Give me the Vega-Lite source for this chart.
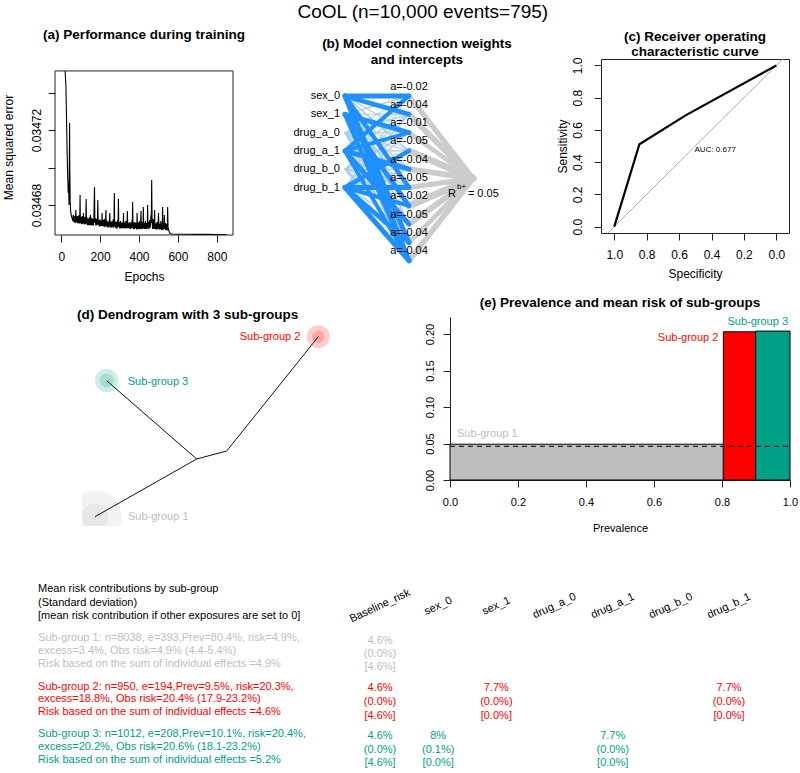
{
  "$schema": "https://vega.github.io/schema/vega-lite/v6.json",
  "background": "white",
  "padding": {"left": 0, "top": 3, "right": 0, "bottom": 0},
  "title": {"text": "CoOL (n=10,000 events=795)", "fontSize": 19, "fontWeight": "normal", "anchor": "middle", "offset": -13, "baseline": "bottom", "dx": 24},
  "spacing": 14,
  "resolve": {"scale": {"color": "independent", "size": "independent", "strokeWidth": "independent"}},
  "config": {
    "font": "Liberation Sans",
    "view": {"stroke": null},
    "legend": {"disable": true},
    "axis": {"grid": false, "domainColor": "#222222", "tickColor": "#222222", "labelColor": "black", "titleColor": "black", "titleFontWeight": "normal", "tickSize": 7, "labelFontSize": 12, "titleFontSize": 12, "labelFlush": false, "labelOverlap": false},
    "title": {"fontSize": 13.5, "fontWeight": "bold", "color": "black", "anchor": "middle", "baseline": "bottom"}
  },
  "vconcat": [
    {
      "bounds": "flush",
      "spacing": 50,
      "resolve": {"scale": {"color": "independent", "size": "independent", "strokeWidth": "independent"}},
      "hconcat": [
        {"width": 5, "height": 10, "data": {"values": [{}]}, "mark": "text", "encoding": {"text": {"value": ""}}},
        {
          "width": 178, "height": 176,
          "title": {"text": "(a) Performance during training", "offset": 17.5},
          "layer": [
            {
              "data": {"values": [
                {"epoch":20,"mse":0.03475147},{"epoch":24,"mse":0.03474400},{"epoch":27,"mse":0.03472800},{"epoch":30,"mse":0.03470933},{"epoch":33,"mse":0.03469600},{"epoch":36,"mse":0.03468640},{"epoch":38,"mse":0.03469067},{"epoch":40,"mse":0.03468000},{"epoch":42,"mse":0.03470667},{"epoch":43,"mse":0.03472373},{"epoch":44,"mse":0.03470133},{"epoch":46,"mse":0.03468267},{"epoch":48,"mse":0.03467733},{"epoch":51,"mse":0.03467467},{"epoch":54,"mse":0.03467360},{"epoch":57,"mse":0.03467253},{"epoch":60,"mse":0.03467147},{"epoch":63,"mse":0.03467413},{"epoch":66,"mse":0.03467093},{"epoch":69,"mse":0.03467307},{"epoch":72,"mse":0.03467040},{"epoch":75,"mse":0.03467733},{"epoch":77,"mse":0.03467093},{"epoch":80,"mse":0.03467360},{"epoch":83,"mse":0.03467040},{"epoch":86,"mse":0.03467253},{"epoch":89,"mse":0.03467093},{"epoch":92,"mse":0.03467467},{"epoch":95,"mse":0.03467040},{"epoch":97,"mse":0.03468533},{"epoch":99,"mse":0.03467093},{"epoch":102,"mse":0.03467307},{"epoch":105,"mse":0.03466987},{"epoch":108,"mse":0.03467413},{"epoch":111,"mse":0.03467040},{"epoch":114,"mse":0.03467573},{"epoch":116,"mse":0.03467040},{"epoch":119,"mse":0.03467253},{"epoch":122,"mse":0.03466987},{"epoch":125,"mse":0.03467360},{"epoch":128,"mse":0.03468320},{"epoch":130,"mse":0.03467040},{"epoch":133,"mse":0.03467307},{"epoch":136,"mse":0.03466987},{"epoch":139,"mse":0.03467200},{"epoch":142,"mse":0.03466933},{"epoch":145,"mse":0.03467360},{"epoch":148,"mse":0.03466987},{"epoch":150,"mse":0.03467467},{"epoch":153,"mse":0.03466933},{"epoch":156,"mse":0.03467253},{"epoch":159,"mse":0.03466987},{"epoch":162,"mse":0.03467147},{"epoch":165,"mse":0.03466933},{"epoch":168,"mse":0.03467413},{"epoch":171,"mse":0.03468960},{"epoch":173,"mse":0.03467040},{"epoch":176,"mse":0.03467253},{"epoch":179,"mse":0.03466933},{"epoch":182,"mse":0.03467200},{"epoch":185,"mse":0.03466987},{"epoch":188,"mse":0.03468267},{"epoch":190,"mse":0.03467040},{"epoch":193,"mse":0.03467147},{"epoch":196,"mse":0.03466880},{"epoch":199,"mse":0.03467200},{"epoch":202,"mse":0.03466933},{"epoch":205,"mse":0.03467093},{"epoch":208,"mse":0.03466880},{"epoch":210,"mse":0.03467573},{"epoch":213,"mse":0.03466933},{"epoch":216,"mse":0.03467147},{"epoch":219,"mse":0.03466880},{"epoch":222,"mse":0.03467253},{"epoch":225,"mse":0.03466827},{"epoch":228,"mse":0.03467093},{"epoch":230,"mse":0.03467733},{"epoch":233,"mse":0.03466880},{"epoch":236,"mse":0.03467147},{"epoch":239,"mse":0.03466827},{"epoch":242,"mse":0.03467040},{"epoch":245,"mse":0.03466880},{"epoch":248,"mse":0.03467200},{"epoch":250,"mse":0.03467573},{"epoch":253,"mse":0.03466827},{"epoch":256,"mse":0.03467040},{"epoch":259,"mse":0.03466827},{"epoch":262,"mse":0.03467147},{"epoch":265,"mse":0.03466880},{"epoch":268,"mse":0.03467253},{"epoch":271,"mse":0.03466827},{"epoch":273,"mse":0.03468640},{"epoch":275,"mse":0.03466880},{"epoch":278,"mse":0.03467093},{"epoch":281,"mse":0.03466827},{"epoch":284,"mse":0.03467040},{"epoch":287,"mse":0.03466773},{"epoch":290,"mse":0.03467200},{"epoch":294,"mse":0.03468320},{"epoch":296,"mse":0.03466827},{"epoch":299,"mse":0.03467040},{"epoch":302,"mse":0.03466773},{"epoch":305,"mse":0.03467147},{"epoch":308,"mse":0.03466827},{"epoch":311,"mse":0.03466987},{"epoch":314,"mse":0.03466773},{"epoch":317,"mse":0.03467093},{"epoch":320,"mse":0.03467573},{"epoch":323,"mse":0.03466827},{"epoch":326,"mse":0.03467040},{"epoch":329,"mse":0.03466773},{"epoch":332,"mse":0.03467147},{"epoch":335,"mse":0.03466827},{"epoch":338,"mse":0.03466987},{"epoch":340,"mse":0.03467680},{"epoch":343,"mse":0.03466773},{"epoch":346,"mse":0.03467040},{"epoch":349,"mse":0.03466827},{"epoch":352,"mse":0.03467093},{"epoch":355,"mse":0.03466773},{"epoch":358,"mse":0.03466987},{"epoch":361,"mse":0.03466827},{"epoch":364,"mse":0.03467200},{"epoch":367,"mse":0.03468160},{"epoch":369,"mse":0.03466773},{"epoch":372,"mse":0.03467040},{"epoch":375,"mse":0.03466773},{"epoch":378,"mse":0.03467093},{"epoch":381,"mse":0.03466827},{"epoch":384,"mse":0.03466987},{"epoch":387,"mse":0.03466720},{"epoch":390,"mse":0.03467573},{"epoch":393,"mse":0.03466827},{"epoch":396,"mse":0.03467040},{"epoch":399,"mse":0.03466773},{"epoch":402,"mse":0.03467147},{"epoch":405,"mse":0.03466773},{"epoch":408,"mse":0.03466987},{"epoch":410,"mse":0.03467680},{"epoch":413,"mse":0.03466773},{"epoch":416,"mse":0.03467093},{"epoch":419,"mse":0.03466827},{"epoch":422,"mse":0.03467893},{"epoch":424,"mse":0.03466773},{"epoch":427,"mse":0.03467040},{"epoch":430,"mse":0.03466773},{"epoch":433,"mse":0.03467147},{"epoch":436,"mse":0.03466827},{"epoch":439,"mse":0.03466987},{"epoch":441,"mse":0.03466720},{"epoch":444,"mse":0.03468000},{"epoch":446,"mse":0.03466827},{"epoch":449,"mse":0.03467093},{"epoch":452,"mse":0.03466773},{"epoch":455,"mse":0.03467200},{"epoch":458,"mse":0.03466880},{"epoch":461,"mse":0.03467467},{"epoch":463,"mse":0.03467040},{"epoch":465,"mse":0.03469333},{"epoch":467,"mse":0.03467147},{"epoch":469,"mse":0.03466827},{"epoch":472,"mse":0.03467253},{"epoch":475,"mse":0.03466773},{"epoch":478,"mse":0.03467040},{"epoch":480,"mse":0.03467733},{"epoch":483,"mse":0.03466773},{"epoch":486,"mse":0.03466987},{"epoch":489,"mse":0.03466720},{"epoch":492,"mse":0.03467093},{"epoch":495,"mse":0.03466773},{"epoch":498,"mse":0.03467040},{"epoch":500,"mse":0.03467573},{"epoch":503,"mse":0.03466720},{"epoch":506,"mse":0.03466987},{"epoch":509,"mse":0.03466773},{"epoch":512,"mse":0.03467147},{"epoch":515,"mse":0.03466720},{"epoch":518,"mse":0.03466933},{"epoch":521,"mse":0.03467893},{"epoch":523,"mse":0.03466720},{"epoch":526,"mse":0.03466987},{"epoch":528,"mse":0.03466720},{"epoch":530,"mse":0.03467467},{"epoch":533,"mse":0.03466773},{"epoch":536,"mse":0.03467040},{"epoch":539,"mse":0.03466720},{"epoch":542,"mse":0.03466933},{"epoch":545,"mse":0.03466667},{"epoch":547,"mse":0.03467893},{"epoch":549,"mse":0.03466827},{"epoch":552,"mse":0.03466667},{"epoch":556,"mse":0.03466560},{"epoch":560,"mse":0.03466480},{"epoch":570,"mse":0.03466453},{"epoch":600,"mse":0.03466443},{"epoch":650,"mse":0.03466437},{"epoch":700,"mse":0.03466432},{"epoch":750,"mse":0.03466432},{"epoch":800,"mse":0.03466427},{"epoch":850,"mse":0.03466427},
                {"epoch":61.5,"mse":0.03467467},{"epoch":64.5,"mse":0.03467147},{"epoch":67.5,"mse":0.03467413},{"epoch":70.5,"mse":0.03467093},{"epoch":73.5,"mse":0.03467360},{"epoch":78.5,"mse":0.03467413},{"epoch":81.5,"mse":0.03467093},{"epoch":84.5,"mse":0.03467413},{"epoch":87.5,"mse":0.03467040},{"epoch":90.5,"mse":0.03467360},{"epoch":93.5,"mse":0.03467040},{"epoch":98,"mse":0.03467413},{"epoch":100.5,"mse":0.03467040},{"epoch":103.5,"mse":0.03467360},{"epoch":106.5,"mse":0.03467040},{"epoch":109.5,"mse":0.03467307},{"epoch":112.5,"mse":0.03466987},{"epoch":117.5,"mse":0.03467360},{"epoch":120.5,"mse":0.03466987},{"epoch":123.5,"mse":0.03467307},{"epoch":126.5,"mse":0.03466987},{"epoch":131.5,"mse":0.03467307},{"epoch":134.5,"mse":0.03466933},{"epoch":137.5,"mse":0.03467253},{"epoch":140.5,"mse":0.03466987},{"epoch":143.5,"mse":0.03467253},{"epoch":146.5,"mse":0.03466933},{"epoch":151.5,"mse":0.03467200},{"epoch":154.5,"mse":0.03466933},{"epoch":157.5,"mse":0.03467307},{"epoch":160.5,"mse":0.03466933},{"epoch":163.5,"mse":0.03467253},{"epoch":166.5,"mse":0.03466933},{"epoch":174.5,"mse":0.03467253},{"epoch":177.5,"mse":0.03466933},{"epoch":180.5,"mse":0.03467253},{"epoch":183.5,"mse":0.03466933},{"epoch":186.5,"mse":0.03467200},{"epoch":191.5,"mse":0.03466933},{"epoch":194.5,"mse":0.03467200},{"epoch":197.5,"mse":0.03466880},{"epoch":200.5,"mse":0.03467200},{"epoch":203.5,"mse":0.03466880},{"epoch":206.5,"mse":0.03467147},{"epoch":211.5,"mse":0.03466880},{"epoch":214.5,"mse":0.03467200},{"epoch":217.5,"mse":0.03466880},{"epoch":220.5,"mse":0.03467147},{"epoch":223.5,"mse":0.03466880},{"epoch":226.5,"mse":0.03467147},{"epoch":231.5,"mse":0.03466880},{"epoch":234.5,"mse":0.03467147},{"epoch":237.5,"mse":0.03466827},{"epoch":240.5,"mse":0.03467093},{"epoch":243.5,"mse":0.03466827},{"epoch":246.5,"mse":0.03467147},{"epoch":251.5,"mse":0.03466827},{"epoch":254.5,"mse":0.03467093},{"epoch":257.5,"mse":0.03466827},{"epoch":260.5,"mse":0.03467093},{"epoch":263.5,"mse":0.03466827},{"epoch":266.5,"mse":0.03467093},{"epoch":269.5,"mse":0.03466827},{"epoch":276.5,"mse":0.03467093},{"epoch":279.5,"mse":0.03466773},{"epoch":282.5,"mse":0.03467093},{"epoch":285.5,"mse":0.03466773},{"epoch":288.5,"mse":0.03467040},{"epoch":292,"mse":0.03466827},{"epoch":297.5,"mse":0.03467040},{"epoch":300.5,"mse":0.03466773},{"epoch":303.5,"mse":0.03467040},{"epoch":306.5,"mse":0.03466773},{"epoch":309.5,"mse":0.03467040},{"epoch":312.5,"mse":0.03466773},{"epoch":315.5,"mse":0.03467040},{"epoch":318.5,"mse":0.03466773},{"epoch":321.5,"mse":0.03467040},{"epoch":324.5,"mse":0.03466773},{"epoch":327.5,"mse":0.03467040},{"epoch":330.5,"mse":0.03466773},{"epoch":333.5,"mse":0.03467040},{"epoch":336.5,"mse":0.03466773},{"epoch":341.5,"mse":0.03467040},{"epoch":344.5,"mse":0.03466773},{"epoch":347.5,"mse":0.03466987},{"epoch":350.5,"mse":0.03466773},{"epoch":353.5,"mse":0.03467040},{"epoch":356.5,"mse":0.03466720},{"epoch":359.5,"mse":0.03467040},{"epoch":362.5,"mse":0.03466773},{"epoch":365.5,"mse":0.03467040},{"epoch":370.5,"mse":0.03466720},{"epoch":373.5,"mse":0.03467040},{"epoch":376.5,"mse":0.03466720},{"epoch":379.5,"mse":0.03466987},{"epoch":382.5,"mse":0.03466773},{"epoch":385.5,"mse":0.03467040},{"epoch":388.5,"mse":0.03466720},{"epoch":391.5,"mse":0.03466987},{"epoch":394.5,"mse":0.03466720},{"epoch":397.5,"mse":0.03467040},{"epoch":400.5,"mse":0.03466720},{"epoch":403.5,"mse":0.03466987},{"epoch":406.5,"mse":0.03466720},{"epoch":411.5,"mse":0.03466987},{"epoch":414.5,"mse":0.03466720},{"epoch":417.5,"mse":0.03467040},{"epoch":420.5,"mse":0.03466720},{"epoch":425.5,"mse":0.03466987},{"epoch":428.5,"mse":0.03466720},{"epoch":431.5,"mse":0.03466987},{"epoch":434.5,"mse":0.03466720},{"epoch":437.5,"mse":0.03467040},{"epoch":442.5,"mse":0.03466773},{"epoch":447.5,"mse":0.03466987},{"epoch":450.5,"mse":0.03466720},{"epoch":453.5,"mse":0.03467040},{"epoch":456.5,"mse":0.03466773},{"epoch":459.5,"mse":0.03467093},{"epoch":470.5,"mse":0.03466720},{"epoch":473.5,"mse":0.03467040},{"epoch":476.5,"mse":0.03466720},{"epoch":481.5,"mse":0.03466987},{"epoch":484.5,"mse":0.03466720},{"epoch":487.5,"mse":0.03466987},{"epoch":490.5,"mse":0.03466720},{"epoch":493.5,"mse":0.03466987},{"epoch":496.5,"mse":0.03466720},{"epoch":501.5,"mse":0.03466987},{"epoch":504.5,"mse":0.03466720},{"epoch":507.5,"mse":0.03466987},{"epoch":510.5,"mse":0.03466720},{"epoch":513.5,"mse":0.03466987},{"epoch":516.5,"mse":0.03466667},{"epoch":519.5,"mse":0.03466987},{"epoch":524.5,"mse":0.03466667},{"epoch":527,"mse":0.03466987},{"epoch":531.5,"mse":0.03466720},{"epoch":534.5,"mse":0.03466987},{"epoch":537.5,"mse":0.03466667},{"epoch":540.5,"mse":0.03466987},{"epoch":543.5,"mse":0.03466667}
              ]},
              "mark": {"type": "line", "color": "black", "strokeWidth": 1.1, "clip": true},
              "encoding": {
                "x": {"field": "epoch", "type": "quantitative", "scale": {"domain": [-32, 883], "nice": false, "zero": false},
                      "axis": {"values": [0, 200, 400, 600, 800], "title": "Epochs", "domain": false, "labelPadding": 9, "titlePadding": 9, "labelOverlap": false}},
                "y": {"field": "mse", "type": "quantitative", "scale": {"domain": [0.034664, 0.03475787], "nice": false, "zero": false},
                      "axis": {"values": [0.03468, 0.0347, 0.03472, 0.03474], "format": ".5f", "labelExpr": "datum.label == '0.03468' || datum.label == '0.03472' ? datum.label : ''", "labelAngle": -90, "labelAlign": "center", "labelBaseline": "bottom", "labelPadding": 5, "title": "Mean squared error", "titlePadding": 15, "domain": false, "labelOverlap": false}}
              }
            },
            {
              "data": {"values": [{}]},
              "mark": {"type": "rect", "fill": "transparent", "stroke": "#222222", "strokeWidth": 1},
              "encoding": {"x": {"datum": -32, "type": "quantitative"}, "x2": {"datum": 883}, "y": {"datum": 0.034664, "type": "quantitative"}, "y2": {"datum": 0.0347515}}
            }
          ]
        },
        {
          "width": 268, "height": 213,
          "title": {"text": ["(b) Model connection weights", "and intercepts"], "offset": -7.5, "lineHeight": 16},
          "resolve": {"scale": {"strokeWidth": "independent", "color": "independent"}},
          "layer": [
            {
              "data": {"values": [{"j":0,"w":0.7},{"j":1,"w":0.8},{"j":2,"w":0.6},{"j":3,"w":0.9},{"j":4,"w":0.75},{"j":5,"w":0.7},{"j":6,"w":0.95},{"j":7,"w":0.8},{"j":8,"w":0.65},{"j":9,"w":0.75}]},
              "mark": {"type": "rule", "color": "#CCCCCC", "strokeCap": "round"},
              "encoding": {
                "x": {"datum": 1, "type": "quantitative", "scale": {"domain": [-0.96875, 3.21875], "nice": false, "zero": false}, "axis": null},
                "x2": {"datum": 2},
                "y": {"field": "j", "type": "quantitative", "scale": {"domain": [-2.022, 9.617], "reverse": true, "nice": false, "zero": false}, "axis": null},
                "y2": {"datum": 4.5},
                "strokeWidth": {"field": "w", "type": "quantitative", "scale": {"domain": [0, 1], "range": [0, 7.5]}, "legend": null}
              }
            },
            {
              "data": {"values": [
                {"i":0,"j":0,"w":0.9},{"i":0,"j":1,"w":0.85},{"i":0,"j":2,"w":0.15},{"i":0,"j":3,"w":0.2},{"i":0,"j":4,"w":0.1},{"i":0,"j":5,"w":0.8},{"i":0,"j":6,"w":0.15},{"i":0,"j":7,"w":0.2},{"i":0,"j":8,"w":0.9},{"i":0,"j":9,"w":0.85},
                {"i":1,"j":0,"w":0.2},{"i":1,"j":1,"w":0.15},{"i":1,"j":2,"w":0.9},{"i":1,"j":3,"w":0.1},{"i":1,"j":4,"w":0.2},{"i":1,"j":5,"w":0.15},{"i":1,"j":6,"w":0.85},{"i":1,"j":7,"w":0.1},{"i":1,"j":8,"w":0.2},{"i":1,"j":9,"w":0.8},
                {"i":2,"j":0,"w":0.15},{"i":2,"j":1,"w":0.2},{"i":2,"j":2,"w":0.1},{"i":2,"j":3,"w":0.15},{"i":2,"j":4,"w":0.2},{"i":2,"j":5,"w":0.1},{"i":2,"j":6,"w":0.15},{"i":2,"j":7,"w":0.2},{"i":2,"j":8,"w":0.1},{"i":2,"j":9,"w":0.15},
                {"i":3,"j":0,"w":0.75},{"i":3,"j":1,"w":0.15},{"i":3,"j":2,"w":0.7},{"i":3,"j":3,"w":0.2},{"i":3,"j":4,"w":0.9},{"i":3,"j":5,"w":0.15},{"i":3,"j":6,"w":0.1},{"i":3,"j":7,"w":0.85},{"i":3,"j":8,"w":0.2},{"i":3,"j":9,"w":0.7},
                {"i":4,"j":0,"w":0.1},{"i":4,"j":1,"w":0.15},{"i":4,"j":2,"w":0.2},{"i":4,"j":3,"w":0.1},{"i":4,"j":4,"w":0.15},{"i":4,"j":5,"w":0.2},{"i":4,"j":6,"w":0.1},{"i":4,"j":7,"w":0.15},{"i":4,"j":8,"w":0.2},{"i":4,"j":9,"w":0.1},
                {"i":5,"j":0,"w":0.15},{"i":5,"j":1,"w":0.2},{"i":5,"j":2,"w":0.15},{"i":5,"j":3,"w":0.8},{"i":5,"j":4,"w":0.2},{"i":5,"j":5,"w":0.9},{"i":5,"j":6,"w":0.75},{"i":5,"j":7,"w":0.15},{"i":5,"j":8,"w":0.85},{"i":5,"j":9,"w":0.9}
              ]},
              "mark": {"type": "rule", "strokeCap": "round"},
              "encoding": {
                "x": {"datum": 0, "type": "quantitative"},
                "x2": {"datum": 1},
                "y": {"field": "i", "type": "quantitative"},
                "y2": {"field": "j"},
                "order": {"field": "w", "type": "quantitative"},
                "strokeWidth": {"field": "w", "type": "quantitative", "scale": {"domain": [0, 1], "range": [0.3, 5.5]}, "legend": null},
                "color": {"field": "w", "type": "quantitative", "scale": {"type": "threshold", "domain": [0.5], "range": ["#A9C9F0", "#1E90FF"]}, "legend": null}
              }
            },
            {
              "data": {"values": [{"i":0,"name":"sex_0"},{"i":1,"name":"sex_1"},{"i":2,"name":"drug_a_0"},{"i":3,"name":"drug_a_1"},{"i":4,"name":"drug_b_0"},{"i":5,"name":"drug_b_1"}]},
              "mark": {"type": "text", "align": "right", "baseline": "middle", "dx": -5, "fontSize": 11, "color": "black"},
              "encoding": {"x": {"datum": 0, "type": "quantitative"}, "y": {"field": "i", "type": "quantitative"}, "text": {"field": "name"}}
            },
            {
              "data": {"values": [{"j":0,"a":"a=-0.02"},{"j":1,"a":"a=-0.04"},{"j":2,"a":"a=-0.01"},{"j":3,"a":"a=-0.05"},{"j":4,"a":"a=-0.04"},{"j":5,"a":"a=-0.05"},{"j":6,"a":"a=-0.02"},{"j":7,"a":"a=-0.05"},{"j":8,"a":"a=-0.04"},{"j":9,"a":"a=-0.04"}]},
              "mark": {"type": "text", "align": "center", "baseline": "middle", "dy": -9.5, "fontSize": 11, "color": "black"},
              "encoding": {"x": {"datum": 1, "type": "quantitative"}, "y": {"field": "j", "type": "quantitative"}, "text": {"field": "a"}}
            },
            {
              "data": {"values": [{"t":"R","px":1.61,"py":5.36},{"t":"= 0.05","px":1.92,"py":5.36}]},
              "mark": {"type": "text", "align": "left", "baseline": "middle", "fontSize": 11, "color": "black"},
              "encoding": {"x": {"field": "px", "type": "quantitative"}, "y": {"field": "py", "type": "quantitative"}, "text": {"field": "t"}}
            },
            {
              "data": {"values": [{"t":"b+","px":1.75,"py":4.98}]},
              "mark": {"type": "text", "align": "left", "baseline": "middle", "fontSize": 8, "color": "black"},
              "encoding": {"x": {"field": "px", "type": "quantitative"}, "y": {"field": "py", "type": "quantitative"}, "text": {"field": "t"}}
            }
          ]
        },
        {
          "width": 188, "height": 174,
          "view": {"stroke": "#222222", "strokeWidth": 1},
          "title": {"text": ["(c) Receiver operating", "characteristic curve"], "offset": -1, "lineHeight": 15},
          "encoding": {
            "x": {"field": "spec", "type": "quantitative", "scale": {"domain": [-0.078, 1.082], "reverse": true, "nice": false, "zero": false},
                  "axis": {"values": [0, 0.2, 0.4, 0.6, 0.8, 1], "format": ".1f", "title": "Specificity", "domain": false, "labelPadding": 9, "titlePadding": 8, "labelOverlap": false}},
            "y": {"field": "sens", "type": "quantitative", "scale": {"domain": [-0.04, 1.04], "nice": false, "zero": false},
                  "axis": {"values": [0, 0.2, 0.4, 0.6, 0.8, 1], "format": ".1f", "labelAngle": -90, "labelAlign": "center", "labelBaseline": "bottom", "labelPadding": 10, "title": "Sensitivity", "titlePadding": 2, "domain": false, "labelOverlap": false}}
          },
          "layer": [
            {
              "data": {"values": [{"spec": 1.1, "sens": -0.1, "spec2": -0.1, "sens2": 1.1}]},
              "mark": {"type": "rule", "color": "#AAAAAA", "strokeWidth": 1, "clip": true},
              "encoding": {"x2": {"field": "spec2"}, "y2": {"field": "sens2"}}
            },
            {
              "data": {"values": [{"spec":1.0,"sens":0.0},{"spec":0.845,"sens":0.511},{"spec":0.56,"sens":0.69},{"spec":0.0,"sens":1.0}]},
              "mark": {"type": "line", "color": "black", "strokeWidth": 2.2, "clip": true}
            },
            {
              "data": {"values": [{"label": "AUC: 0.677", "spec": 0.505, "sens": 0.476}]},
              "mark": {"type": "text", "align": "left", "baseline": "middle", "fontSize": 8, "color": "black"},
              "encoding": {"text": {"field": "label"}}
            }
          ]
        }
      ]
    },
    {
      "bounds": "flush",
      "spacing": 40,
      "resolve": {"scale": {"color": "independent", "size": "independent", "strokeWidth": "independent"}},
      "hconcat": [
        {"width": 42, "height": 10, "data": {"values": [{}]}, "mark": "text", "encoding": {"text": {"value": ""}}},
        {
          "width": 328, "height": 209,
          "title": {"text": "(d) Dendrogram with 3 sub-groups", "anchor": "start", "offset": -4.5, "dx": -5},
          "resolve": {"scale": {"size": "independent"}},
          "layer": [
            {
              "data": {"values": [{"grp":"Sub-group 1","x":0.0396,"y":0.0445,"n":8038,"e":393},{"grp":"Sub-group 2","x":0.7204,"y":0.9057,"n":950,"e":194},{"grp":"Sub-group 3","x":0.0753,"y":0.6952,"n":1012,"e":208}]},
              "mark": {"type": "point", "shape": "circle", "filled": true, "opacity": 0.2, "strokeWidth": 0, "clip": true},
              "encoding": {
                "x": {"field": "x", "type": "quantitative", "scale": {"domain": [0, 1], "nice": false, "zero": false}, "axis": null},
                "y": {"field": "y", "type": "quantitative", "scale": {"domain": [0, 1], "nice": false, "zero": false}, "axis": null},
                "size": {"field": "n", "type": "quantitative", "scale": {"domain": [950, 8038], "range": [531, 2827]}, "legend": null},
                "color": {"field": "grp", "type": "nominal", "scale": {"domain": ["Sub-group 1", "Sub-group 2", "Sub-group 3"], "range": ["#BEBEBE", "#FF0000", "#00A087"]}, "legend": null}
              }
            },
            {
              "data": {"values": [{"grp":"Sub-group 1","x":0.0396,"y":0.0445,"n":8038,"e":393},{"grp":"Sub-group 2","x":0.7204,"y":0.9057,"n":950,"e":194},{"grp":"Sub-group 3","x":0.0753,"y":0.6952,"n":1012,"e":208}]},
              "mark": {"type": "point", "shape": "circle", "filled": true, "opacity": 0.2, "strokeWidth": 0, "clip": true},
              "encoding": {
                "x": {"field": "x", "type": "quantitative"},
                "y": {"field": "y", "type": "quantitative"},
                "size": {"field": "e", "type": "quantitative", "scale": {"domain": [194, 393], "range": [154, 707]}, "legend": null},
                "color": {"field": "grp", "type": "nominal", "legend": null}
              }
            },
            {
              "data": {"values": [{"x":0.0396,"y":0.0445,"x2":0.3497,"y2":0.3206},{"x":0.3497,"y":0.3206,"x2":0.0753,"y2":0.6952},{"x":0.3497,"y":0.3206,"x2":0.4412,"y2":0.3589},{"x":0.4412,"y":0.3589,"x2":0.7204,"y2":0.9057}]},
              "mark": {"type": "rule", "color": "#111111", "strokeWidth": 1},
              "encoding": {"x": {"field": "x", "type": "quantitative"}, "y": {"field": "y", "type": "quantitative"}, "x2": {"field": "x2"}, "y2": {"field": "y2"}}
            },
            {
              "data": {"values": [{"grp":"Sub-group 2","x":0.7204,"y":0.9057}]},
              "mark": {"type": "text", "align": "right", "baseline": "middle", "dx": -18, "fontSize": 11},
              "encoding": {"x": {"field": "x", "type": "quantitative"}, "y": {"field": "y", "type": "quantitative"}, "text": {"field": "grp"}, "color": {"field": "grp", "type": "nominal", "legend": null}}
            },
            {
              "data": {"values": [{"grp":"Sub-group 3","x":0.0753,"y":0.6952}]},
              "mark": {"type": "text", "align": "left", "baseline": "middle", "dx": 21, "dy": 1, "fontSize": 11},
              "encoding": {"x": {"field": "x", "type": "quantitative"}, "y": {"field": "y", "type": "quantitative"}, "text": {"field": "grp"}, "color": {"field": "grp", "type": "nominal", "legend": null}}
            },
            {
              "data": {"values": [{"grp":"Sub-group 1","x":0.0396,"y":0.0445}]},
              "mark": {"type": "text", "align": "left", "baseline": "middle", "dx": 33, "fontSize": 11},
              "encoding": {"x": {"field": "x", "type": "quantitative"}, "y": {"field": "y", "type": "quantitative"}, "text": {"field": "grp"}, "color": {"field": "grp", "type": "nominal", "legend": null}}
            }
          ]
        },
        {
          "width": 340, "height": 163,
          "title": {"text": "(e) Prevalence and mean risk of sub-groups", "offset": 6.5},
          "data": {"values": [{"grp":"Sub-group 1","start":0,"end":0.804,"risk":0.049},{"grp":"Sub-group 2","start":0.804,"end":0.899,"risk":0.203},{"grp":"Sub-group 3","start":0.899,"end":1.0,"risk":0.204}]},
          "layer": [
            {
              "mark": {"type": "rect", "stroke": "black", "strokeWidth": 1},
              "encoding": {
                "x": {"field": "start", "type": "quantitative", "scale": {"domain": [0, 1], "nice": false, "zero": false},
                      "axis": {"values": [0, 0.2, 0.4, 0.6, 0.8, 1], "format": ".1f", "title": "Prevalence", "labelFontSize": 11, "titleFontSize": 11, "labelPadding": 9.5, "titlePadding": 15}},
                "x2": {"field": "end"},
                "y": {"field": "risk", "type": "quantitative", "scale": {"domain": [0, 0.2233], "nice": false, "zero": false},
                      "axis": {"values": [0, 0.05, 0.1, 0.15, 0.2], "format": ".2f", "labelAngle": -90, "labelAlign": "center", "labelBaseline": "bottom", "labelPadding": 7.5, "labelFontSize": 11, "title": null}},
                "y2": {"datum": 0},
                "color": {"field": "grp", "type": "nominal", "scale": {"domain": ["Sub-group 1", "Sub-group 2", "Sub-group 3"], "range": ["#BEBEBE", "#FF0000", "#00A087"]}, "legend": null}
              }
            },
            {
              "mark": {"type": "rule", "color": "#222222", "strokeDash": [5, 4], "strokeWidth": 1},
              "encoding": {"y": {"datum": 0.046, "type": "quantitative"}, "x": {"datum": 0, "type": "quantitative"}, "x2": {"datum": 1}}
            },
            {
              "transform": [{"filter": "datum.grp == 'Sub-group 1'"}],
              "mark": {"type": "text", "align": "left", "baseline": "middle", "dx": 7, "dy": -10, "fontSize": 11},
              "encoding": {"x": {"field": "start", "type": "quantitative"}, "y": {"field": "risk", "type": "quantitative"}, "text": {"field": "grp"}, "color": {"field": "grp", "type": "nominal", "legend": null}}
            },
            {
              "transform": [{"filter": "datum.grp == 'Sub-group 2'"}],
              "mark": {"type": "text", "align": "right", "baseline": "middle", "dx": -5, "dy": 6, "fontSize": 11},
              "encoding": {"x": {"field": "start", "type": "quantitative"}, "y": {"field": "risk", "type": "quantitative"}, "text": {"field": "grp"}, "color": {"field": "grp", "type": "nominal", "legend": null}}
            },
            {
              "transform": [{"filter": "datum.grp == 'Sub-group 3'"}],
              "mark": {"type": "text", "align": "right", "baseline": "middle", "dx": -2, "dy": -9, "fontSize": 11},
              "encoding": {"x": {"field": "end", "type": "quantitative"}, "y": {"field": "risk", "type": "quantitative"}, "text": {"field": "grp"}, "color": {"field": "grp", "type": "nominal", "legend": null}}
            }
          ]
        }
      ]
    },
    {
      "width": 795, "height": 222,
      "layer": [
        {
          "data": {"values": [
            {"text":"Mean risk contributions by sub-group","grp":"title","row":0},
            {"text":"(Standard deviation)","grp":"title","row":1.01},
            {"text":"[mean risk contribution if other exposures are set to 0]","grp":"title","row":2.0},
            {"text":"Sub-group 1: n=8038, e=393,Prev=80.4%, risk=4.9%,","grp":"Sub-group 1","row":3.65},
            {"text":"excess=3.4%, Obs risk=4.9% (4.4-5.4%)","grp":"Sub-group 1","row":4.57},
            {"text":"Risk based on the sum of individual effects =4.9%","grp":"Sub-group 1","row":5.56},
            {"text":"Sub-group 2: n=950, e=194,Prev=9.5%, risk=20.3%,","grp":"Sub-group 2","row":7.24},
            {"text":"excess=18.8%, Obs risk=20.4% (17.9-23.2%)","grp":"Sub-group 2","row":8.15},
            {"text":"Risk based on the sum of individual effects =4.6%","grp":"Sub-group 2","row":9.09},
            {"text":"Sub-group 3: n=1012, e=208,Prev=10.1%, risk=20.4%,","grp":"Sub-group 3","row":10.74},
            {"text":"excess=20.2%, Obs risk=20.6% (18.1-23.2%)","grp":"Sub-group 3","row":11.68},
            {"text":"Risk based on the sum of individual effects =5.2%","grp":"Sub-group 3","row":12.67}
          ]},
          "mark": {"type": "text", "align": "left", "baseline": "middle", "fontSize": 11},
          "encoding": {
            "x": {"datum": -5.879, "type": "quantitative", "scale": {"domain": [-6.533, 7.134], "nice": false, "zero": false}, "axis": null},
            "y": {"field": "row", "type": "quantitative", "scale": {"domain": [-3.04, 13.41], "reverse": true, "nice": false, "zero": false}, "axis": null},
            "text": {"field": "text"},
            "color": {"field": "grp", "type": "nominal", "scale": {"domain": ["title", "Sub-group 1", "Sub-group 2", "Sub-group 3"], "range": ["#000000", "#BEBEBE", "#FF0000", "#00A087"]}, "legend": null}
          }
        },
        {
          "data": {"values": [{"text":"Baseline_risk","col":0},{"text":"sex_0","col":1},{"text":"sex_1","col":2},{"text":"drug_a_0","col":3},{"text":"drug_a_1","col":4},{"text":"drug_b_0","col":5},{"text":"drug_b_1","col":6}]},
          "mark": {"type": "text", "align": "center", "baseline": "middle", "angle": -25, "fontSize": 11, "color": "black"},
          "encoding": {"x": {"field": "col", "type": "quantitative"}, "y": {"datum": 1.26, "type": "quantitative"}, "text": {"field": "text"}}
        },
        {
          "data": {"values": [
            {"text":"4.6%","grp":"Sub-group 1","col":0,"row":3.83},{"text":"(0.0%)","grp":"Sub-group 1","col":0,"row":4.81},{"text":"[4.6%]","grp":"Sub-group 1","col":0,"row":5.8},
            {"text":"4.6%","grp":"Sub-group 2","col":0,"row":7.36},{"text":"(0.0%)","grp":"Sub-group 2","col":0,"row":8.39},{"text":"[4.6%]","grp":"Sub-group 2","col":0,"row":9.39},
            {"text":"7.7%","grp":"Sub-group 2","col":2,"row":7.36},{"text":"(0.0%)","grp":"Sub-group 2","col":2,"row":8.39},{"text":"[0.0%]","grp":"Sub-group 2","col":2,"row":9.39},
            {"text":"7.7%","grp":"Sub-group 2","col":6,"row":7.36},{"text":"(0.0%)","grp":"Sub-group 2","col":6,"row":8.39},{"text":"[0.0%]","grp":"Sub-group 2","col":6,"row":9.39},
            {"text":"4.6%","grp":"Sub-group 3","col":0,"row":10.87},{"text":"(0.0%)","grp":"Sub-group 3","col":0,"row":11.93},{"text":"[4.6%]","grp":"Sub-group 3","col":0,"row":12.91},
            {"text":"8%","grp":"Sub-group 3","col":1,"row":10.87},{"text":"(0.1%)","grp":"Sub-group 3","col":1,"row":11.93},{"text":"[0.0%]","grp":"Sub-group 3","col":1,"row":12.91},
            {"text":"7.7%","grp":"Sub-group 3","col":4,"row":10.87},{"text":"(0.0%)","grp":"Sub-group 3","col":4,"row":11.93},{"text":"[0.0%]","grp":"Sub-group 3","col":4,"row":12.91}
          ]},
          "mark": {"type": "text", "align": "center", "baseline": "middle", "fontSize": 11},
          "encoding": {"x": {"field": "col", "type": "quantitative"}, "y": {"field": "row", "type": "quantitative"}, "text": {"field": "text"}, "color": {"field": "grp", "type": "nominal", "legend": null}}
        }
      ]
    }
  ]
}
